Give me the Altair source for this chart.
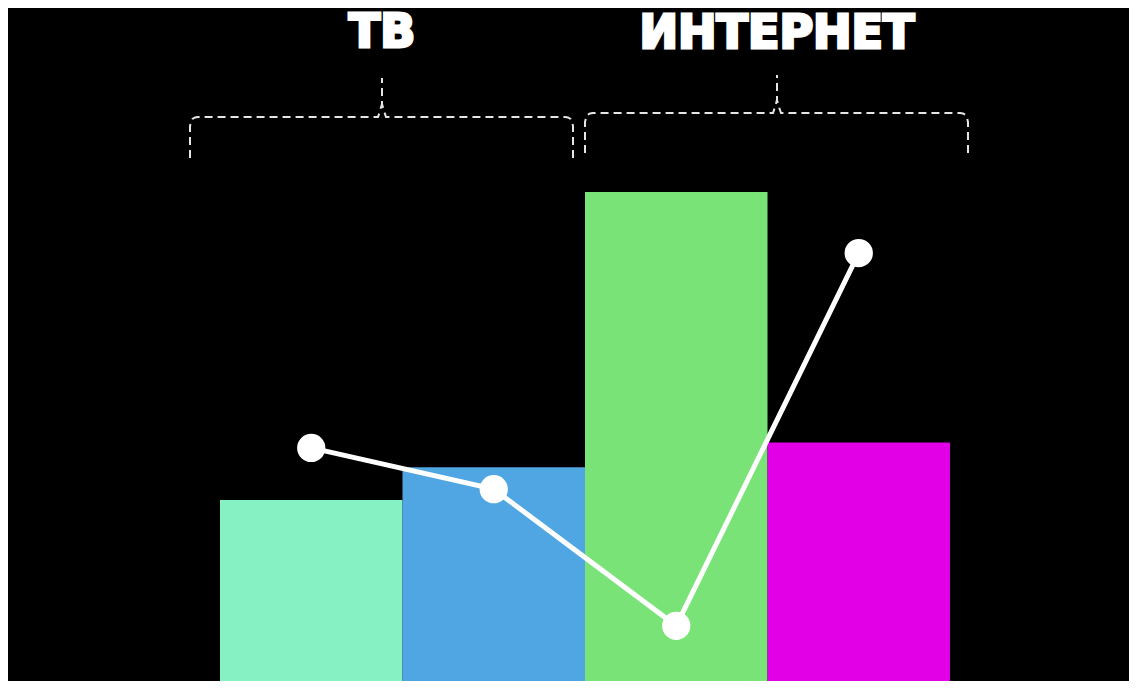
import altair as alt
import pandas as pd

# ---- data ----
categories = ["ТВ 1", "ТВ 2", "Интернет 1", "Интернет 2"]
groups = ["ТВ", "ТВ", "ИНТЕРНЕТ", "ИНТЕРНЕТ"]
bar_values = [38, 44.6, 100, 49.6]
line_values = [48.5, 40.2, 12.7, 87.7]
bar_colors = ["#86F2C4", "#4FA6E2", "#79E377", "#E200E6"]
group_labels = ["ТВ", "ИНТЕРНЕТ"]

# ---- layout constants (pixels) ----
W, H = 1121, 673
X_RANGE = [212, 942]
Y_RANGE = [681, 0]
Y_DOMAIN = [0, 137]

df = pd.DataFrame({"cat": categories, "group": groups,
                   "bar": bar_values, "line": line_values})

xs = alt.Scale(domain=categories, range=X_RANGE, paddingInner=0, paddingOuter=0)
ys = alt.Scale(domain=Y_DOMAIN, range=Y_RANGE, nice=False, zero=True)

bars = alt.Chart(df).mark_bar(opacity=1, strokeWidth=0).encode(
    x=alt.X("cat:N", scale=xs, axis=None, sort=categories),
    y=alt.Y("bar:Q", scale=ys, axis=None),
    color=alt.Color("cat:N", scale=alt.Scale(domain=categories, range=bar_colors), legend=None),
)

line = alt.Chart(df).mark_line(color="white", strokeWidth=5).encode(
    x=alt.X("cat:N", scale=xs, axis=None, sort=categories),
    y=alt.Y("line:Q", scale=ys, axis=None),
)
points = alt.Chart(df).mark_circle(color="white", opacity=1, size=800).encode(
    x=alt.X("cat:N", scale=xs, axis=None, sort=categories),
    y=alt.Y("line:Q", scale=ys, axis=None),
)

# ---- dashed curly braces (annotation geometry, in pixels) ----
brace_geom = [
    # x0, x1, yh, yb, xm, yt
    (182, 565, 109, 150, 374, 70),
    (577, 960, 105, 145, 769, 67),
]
rows = []
for b, (x0, x1, yh, yb, xm, yt) in enumerate(brace_geom):
    left = [(x0, yb), (x0, yh + 9), (x0 + 1, yh + 5), (x0 + 2.5, yh + 2), (x0 + 5, yh + 0.5), (x0 + 8, yh),
            (xm - 4, yh), (xm - 2, yh - 6), (xm, yh - 13), (xm, yt)]
    right = [(x1, yb), (x1, yh + 9), (x1 - 1, yh + 5), (x1 - 2.5, yh + 2), (x1 - 5, yh + 0.5), (x1 - 8, yh),
             (xm + 4, yh), (xm + 2, yh - 6), (xm, yh - 13)]
    for side, pts in (("L", left), ("R", right)):
        for i, (px, py) in enumerate(pts):
            rows.append({"part": f"{b}{side}", "i": i, "px": px, "py": py})
brace_df = pd.DataFrame(rows)

braces = alt.Chart(brace_df).mark_line(
    color="#E6E6E6", strokeWidth=2, strokeDash=[8, 5]
).encode(
    x=alt.X("px:Q", scale=None, axis=None),
    y=alt.Y("py:Q", scale=None, axis=None),
    detail="part:N",
    order="i:Q",
)

label_df = pd.DataFrame({
    "label": group_labels,
    "px": [g[4] for g in brace_geom],
    "py": [39, 40],
})
labels = alt.Chart(label_df).mark_text(
    font="DejaVu Sans", fontWeight="bold", fontSize=46, color="white",
    stroke="white", strokeWidth=3, strokeJoin="miter",
    align="center", baseline="alphabetic"
).encode(
    x=alt.X("px:Q", scale=None, axis=None),
    y=alt.Y("py:Q", scale=None, axis=None),
    text="label:N",
)

chart = alt.layer(bars, line, points, braces, labels).resolve_scale(
    x="independent", y="independent", color="independent"
).properties(
    width=W, height=H, background="black",
    autosize=alt.AutoSizeParams(type="none"), padding=0,
).configure_view(stroke=None)

chart.save("out.html", embed_options={"renderer": "svg", "actions": False})
